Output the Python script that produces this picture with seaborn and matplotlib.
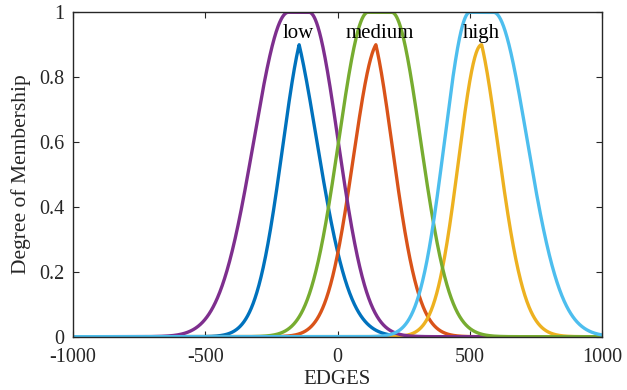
import numpy as np
import pandas as pd
import matplotlib
matplotlib.use("Agg")
import matplotlib.pyplot as plt
import seaborn as sns

# ---- data (membership-function parameters) ----
sets = ["low", "medium", "high"]
# upper membership functions (two-sided gaussian with flat top)
upper_c1 = [-186, 115, 500]
upper_s1 = [130, 110, 95]
upper_c2 = [-107, 205, 590]
upper_s2 = [109, 109, 127]
# lower membership functions (peaked)
lower_peak = [-145, 145, 545]
lower_height = [0.9, 0.9, 0.9]
lower_sL = [100, 100, 87]
lower_aL = [38, 15, 0]
lower_sR = [125, 100, 100]
lower_aR = [60, 38, 38]

label_x = [-150, 160, 545]
label_y = [0.935, 0.935, 0.935]

x_ticks = [-1000, -500, 0, 500, 1000]
y_ticks = [0, 0.2, 0.4, 0.6, 0.8, 1]
y_ticklabels = ["0", "0.2", "0.4", "0.6", "0.8", "1"]

x = np.linspace(-1000, 1000, 2001)


def upper_mf(x, c1, s1, c2, s2):
    f1 = np.where(x < c1, np.exp(-(x - c1) ** 2 / (2 * s1 ** 2)), 1.0)
    f2 = np.where(x > c2, np.exp(-(x - c2) ** 2 / (2 * s2 ** 2)), 1.0)
    return f1 * f2


def lower_mf(x, c, h, sL, aL, sR, aR):
    d = np.abs(x - c)
    left = np.exp(-(d ** 2 + 2 * aL * d) / (2 * sL ** 2))
    right = np.exp(-(d ** 2 + 2 * aR * d) / (2 * sR ** 2))
    return h * np.where(x < c, left, right)


frames = []
for i, s in enumerate(sets):
    frames.append(pd.DataFrame({"x": x, "y": lower_mf(x, lower_peak[i], lower_height[i],
                                                        lower_sL[i], lower_aL[i],
                                                        lower_sR[i], lower_aR[i]),
                                "mf": f"{s}_lower"}))
for i, s in enumerate(sets):
    frames.append(pd.DataFrame({"x": x, "y": upper_mf(x, upper_c1[i], upper_s1[i],
                                                        upper_c2[i], upper_s2[i]),
                                "mf": f"{s}_upper"}))
df = pd.concat(frames, ignore_index=True)

order = ["low_lower", "medium_lower", "high_lower", "low_upper", "medium_upper", "high_upper"]
colors = ["#0072BD", "#D95319", "#EDB120", "#7E2F8E", "#77AC30", "#4DBEEE"]

sns.set_style("ticks")
plt.rcParams["font.family"] = ["Liberation Serif", "DejaVu Serif"]

fig = plt.figure(figsize=(6.27, 3.90), dpi=100)
ax = fig.add_axes([73 / 627, 1 - 336.7 / 390, (602 - 73) / 627, (336.7 - 12.3) / 390])

sns.lineplot(data=df, x="x", y="y", hue="mf", hue_order=order, palette=colors,
             linewidth=2.4, legend=False, ax=ax, estimator=None, sort=False)

for i, s in enumerate(sets):
    ax.text(label_x[i], label_y[i], s, ha="center", va="center", fontsize=15,
            color="black", family="Liberation Serif")

ax.set_xlim(-1000, 1000)
ax.set_ylim(0, 1)
ax.set_xticks(x_ticks)
ax.set_xticklabels([str(v) for v in x_ticks])
ax.set_yticks(y_ticks)
ax.set_yticklabels(y_ticklabels)

for sp in ax.spines.values():
    sp.set_visible(True)
    sp.set_linewidth(1.0)
    sp.set_color("#262626")
ax.tick_params(direction="in", length=4, width=0.8, colors="#262626",
               top=True, right=True, labelsize=14.5)
ax.tick_params(axis="x", pad=8)
ax.tick_params(axis="y", pad=6)
for lab in ax.get_xticklabels() + ax.get_yticklabels():
    lab.set_family("Liberation Serif")

ax.set_xlabel("EDGES", fontsize=15, color="#262626", labelpad=2, family="Liberation Serif")
ax.set_ylabel("Degree of Membership", fontsize=15.5, color="#262626", labelpad=6,
              family="Liberation Serif")

fig.savefig("out.png", dpi=100)
